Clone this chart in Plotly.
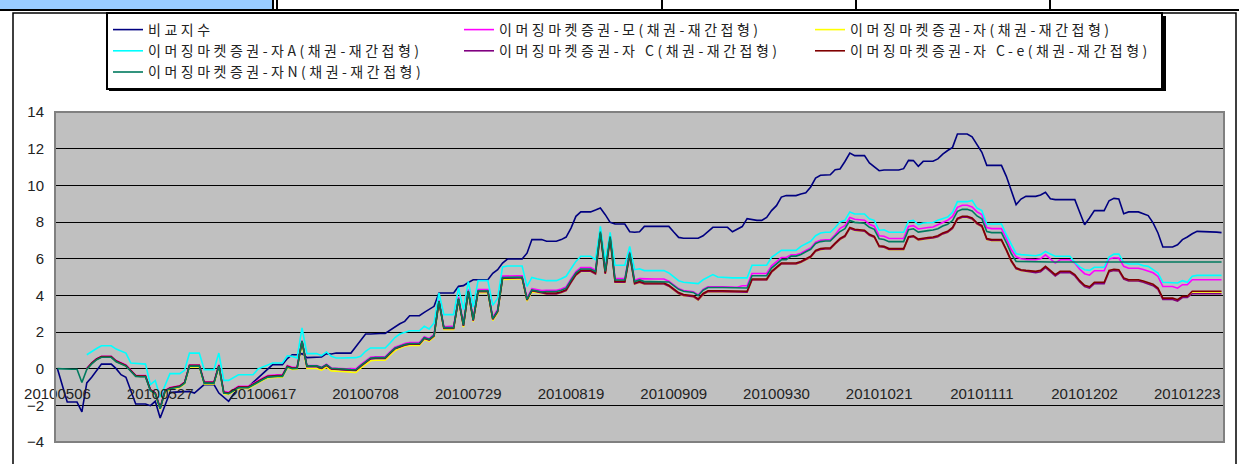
import pandas as pd
import plotly.graph_objects as go

DATES = list(pd.date_range("2010-05-06", "2010-12-30", freq="D").strftime("%Y%m%d"))
TICK_LABELS = ["20100506", "20100527", "20100617", "20100708", "20100729", "20100819",
               "20100909", "20100930", "20101021", "20101111", "20101202", "20101223"]
NAMES = ["비교지수",
         "이머징마켓증권-모(채권-재간접형)",
         "이머징마켓증권-자(채권-재간접형)",
         "이머징마켓증권-자A(채권-재간접형)",
         "이머징마켓증권-자 C(채권-재간접형)",
         "이머징마켓증권-자 C-e(채권-재간접형)",
         "이머징마켓증권-자N(채권-재간접형)"]
COLORS = ["#000080", "#FF00FF", "#FFFF00", "#00FFFF", "#800080", "#800000", "#007A5E"]
N = None

BENCH = [0.00, -0.90, -1.82, -1.82, -1.82, -2.36, -0.78, -0.47, -0.10, 0.25,
         0.25, 0.25, 0.00, -0.33, -0.47, -1.20, -1.93, -1.93, -1.93, -2.02,
         -1.78, -2.69, -2.00, -1.30, -1.28, -1.26, -1.24, -1.24, -1.33, -1.10,
         -0.87, -0.87, -0.87, -1.33, -1.55, -1.78, -1.40, -1.02, -1.02, -1.02,
         -0.75, -0.51, -0.28, -0.05, 0.22, 0.22, 0.22, 0.55, 0.76, 0.76,
         0.82, 0.60, 0.60, 0.60, 0.64, 0.82, 0.80, 0.85, 0.85, 0.85,
         0.85, 1.20, 1.58, 1.89, 1.89, 1.92, 1.92, 1.92, 2.10, 2.31,
         2.45, 2.58, 2.89, 2.89, 2.89, 3.07, 3.25, 3.40, 4.13, 4.13,
         4.13, 4.13, 4.49, 4.53, 4.70, 4.85, 4.85, 4.85, 4.85, 5.20,
         5.40, 5.76, 5.98, 5.98, 5.98, 5.98, 6.30, 7.04, 7.04, 7.04,
         6.95, 6.95, 6.95, 7.04, 7.18, 7.67, 8.31, 8.55, 8.55, 8.55,
         8.65, 8.76, 8.40, 7.98, 7.89, 7.89, 7.89, 7.47, 7.44, 7.47,
         7.76, 7.76, 7.76, 7.76, 7.76, 7.76, 7.45, 7.16, 7.11, 7.11,
         7.11, 7.11, 7.25, 7.50, 7.71, 7.71, 7.71, 7.71, 7.47, 7.60,
         7.75, 8.18, 8.12, 8.09, 8.09, 8.25, 8.62, 8.89, 9.36, 9.44,
         9.44, 9.44, 9.53, 9.60, 9.91, 10.40, 10.55, 10.58, 10.58, 10.85,
         10.89, 11.30, 11.76, 11.62, 11.62, 11.62, 11.22, 11.00, 10.80, 10.84,
         10.84, 10.84, 10.84, 10.91, 11.36, 11.35, 11.04, 11.31, 11.31, 11.31,
         11.44, 11.70, 11.90, 12.07, 12.80, 12.80, 12.80, 12.64, 12.22, 11.80,
         11.09, 11.09, 11.09, 11.09, 10.49, 9.70, 8.95, 9.25, 9.40, 9.40,
         9.40, 9.47, 9.62, 9.27, 9.22, 9.22, 9.22, 9.22, 9.22, 8.53,
         7.85, 8.22, 8.62, 8.62, 8.62, 9.16, 9.29, 9.25, 8.45, 8.55,
         8.55, 8.55, 8.45, 8.35, 7.95, 7.40, 6.64, 6.64, 6.64, 6.76,
         7.04, 7.18, 7.36, 7.49, 7.49, 7.49, 7.49, 7.45, 7.42]

FUND_MO = [N, N, N, N, N, N, 0.02, 0.32, 0.55, 0.68,
           0.68, 0.68, 0.44, 0.32, 0.20, -0.08, -0.36, -0.38, -0.38, -1.13,
           -1.31, -2.13, -1.18, -1.03, -0.98, -0.93, -0.73, 0.20, 0.20, 0.20,
           -0.71, -0.71, -0.71, 0.22, -1.25, -1.29, -1.11, -0.96, -0.96, -0.96,
           -0.81, -0.65, -0.51, -0.38, -0.34, -0.34, -0.34, 0.17, 0.08, 0.09,
           1.53, 0.17, 0.17, 0.17, 0.08, 0.24, 0.04, 0.01, -0.01, -0.01,
           0.00, -0.01, 0.22, 0.42, 0.62, 0.65, 0.65, 0.65, 0.92, 1.17,
           1.27, 1.37, 1.42, 1.42, 1.42, 1.74, 1.65, 1.87, 3.74, 2.29,
           2.32, 2.32, 3.90, 2.45, 4.32, 2.74, 4.32, 4.32, 4.32, 2.81,
           3.23, 5.05, 5.07, 5.07, 5.07, 5.07, 3.86, 4.37, 4.32, 4.26,
           4.28, 4.28, 4.28, 4.35, 4.46, 4.90, 5.30, 5.51, 5.51, 5.51,
           5.37, 7.55, 5.37, 7.28, 4.91, 4.91, 4.91, 6.40, 4.82, 4.91,
           4.89, 4.89, 4.89, 4.89, 4.89, 4.77, 4.57, 4.37, 4.26, 4.24,
           4.20, 4.02, 4.32, 4.47, 4.49, 4.47, 4.47, 4.47, 4.44, 4.44,
           4.52, 4.52, 5.19, 5.19, 5.19, 5.19, 5.61, 5.85, 6.06, 6.06,
           6.21, 6.21, 6.30, 6.45, 6.58, 6.90, 7.00, 7.03, 7.03, 7.30,
           7.65, 7.80, 8.25, 8.15, 8.13, 8.10, 7.88, 7.77, 7.25, 7.22,
           7.10, 7.10, 7.10, 7.10, 7.75, 7.80, 7.62, 7.68, 7.70, 7.73,
           7.85, 8.00, 8.09, 8.30, 8.80, 8.91, 8.91, 8.82, 8.55, 8.40,
           7.70, 7.64, 7.64, 7.64, 7.10, 6.50, 6.10, 6.00, 5.96, 5.93,
           5.94, 5.99, 6.21, 5.99, 5.76, 5.94, 5.94, 5.94, 5.76, 5.43,
           5.18, 5.10, 5.34, 5.34, 5.34, 5.99, 6.05, 6.03, 5.58, 5.48,
           5.48, 5.48, 5.41, 5.34, 5.23, 5.03, 4.48, 4.48, 4.48, 4.39,
           4.58, 4.58, 4.85, 4.85, 4.85, 4.85, 4.85, 4.85, 4.85]

FUND_JA = [N, N, N, N, N, N, -0.03, 0.27, 0.50, 0.63,
           0.63, 0.63, 0.39, 0.27, 0.15, -0.13, -0.41, -0.43, -0.43, -1.18,
           -1.41, -2.23, -1.28, -1.13, -1.08, -1.03, -0.83, 0.10, 0.10, 0.10,
           -0.83, -0.83, -0.83, 0.10, -1.37, -1.41, -1.23, -1.08, -1.08, -1.08,
           -0.93, -0.77, -0.63, -0.50, -0.46, -0.46, -0.46, 0.05, -0.04, -0.03,
           1.37, 0.01, 0.01, 0.01, -0.08, 0.08, -0.12, -0.15, -0.17, -0.17,
           -0.19, -0.20, 0.03, 0.23, 0.43, 0.46, 0.46, 0.46, 0.73, 0.98,
           1.12, 1.22, 1.27, 1.27, 1.27, 1.59, 1.50, 1.72, 3.59, 2.14,
           2.14, 2.14, 3.72, 2.27, 4.14, 2.56, 4.14, 4.14, 4.14, 2.63,
           3.05, 4.87, 4.89, 4.89, 4.89, 4.89, 3.68, 4.19, 4.14, 4.08,
           4.07, 4.07, 4.07, 4.14, 4.25, 4.69, 5.09, 5.30, 5.30, 5.30,
           5.16, 7.34, 5.16, 7.07, 4.70, 4.70, 4.70, 6.19, 4.61, 4.70,
           4.61, 4.61, 4.61, 4.61, 4.61, 4.49, 4.29, 4.09, 3.98, 3.96,
           3.92, 3.74, 4.04, 4.19, 4.21, 4.19, 4.19, 4.19, 4.16, 4.16,
           4.16, 4.16, 4.83, 4.83, 4.83, 4.83, 5.25, 5.49, 5.70, 5.70,
           5.70, 5.70, 5.79, 5.94, 6.07, 6.39, 6.49, 6.52, 6.52, 6.79,
           7.04, 7.19, 7.64, 7.54, 7.52, 7.49, 7.27, 7.16, 6.64, 6.61,
           6.49, 6.49, 6.49, 6.49, 7.14, 7.19, 7.01, 7.07, 7.09, 7.12,
           7.19, 7.34, 7.43, 7.64, 8.14, 8.25, 8.25, 8.16, 7.89, 7.74,
           7.04, 6.98, 6.98, 6.98, 6.44, 5.84, 5.44, 5.34, 5.30, 5.27,
           5.26, 5.31, 5.53, 5.31, 5.08, 5.26, 5.26, 5.26, 5.08, 4.75,
           4.50, 4.42, 4.66, 4.66, 4.66, 5.31, 5.37, 5.35, 4.90, 4.80,
           4.80, 4.80, 4.73, 4.66, 4.55, 4.35, 3.80, 3.80, 3.80, 3.71,
           3.90, 3.90, 4.12, 4.12, 4.12, 4.12, 4.12, 4.12, 4.12]

FUND_JA_A = [N, N, N, N, N, N, 0.76, 0.95, 1.10, 1.25,
             1.25, 1.25, 1.07, 0.95, 0.85, 0.31, 0.28, 0.26, 0.25, -0.87,
             -0.65, -1.56, -0.90, -0.27, -0.27, -0.27, -0.09, 0.85, 0.85, 0.85,
             -0.05, -0.05, -0.05, 0.85, -0.64, -0.64, -0.48, -0.33, -0.33, -0.33,
             -0.33, -0.02, 0.10, 0.22, 0.31, 0.31, 0.31, 0.70, 0.67, 0.58,
             2.22, 0.82, 0.82, 0.82, 0.71, 0.91, 0.67, 0.58, 0.58, 0.58,
             0.58, 0.60, 0.67, 0.95, 1.13, 1.13, 1.13, 1.13, 1.40, 1.70,
             1.89, 1.98, 2.07, 2.07, 2.07, 2.31, 2.16, 2.49, 4.13, 2.95,
             2.95, 2.95, 4.40, 3.22, 4.76, 3.36, 4.80, 4.80, 4.80, 3.45,
             3.85, 5.55, 5.60, 5.60, 5.60, 5.60, 4.49, 4.98, 4.90, 4.85,
             4.80, 4.80, 4.80, 4.90, 5.04, 5.45, 5.85, 6.13, 6.13, 6.13,
             5.95, 7.76, 5.85, 7.44, 5.64, 5.64, 5.64, 6.67, 5.40, 5.45,
             5.35, 5.35, 5.35, 5.35, 5.35, 5.22, 5.00, 4.80, 4.71, 4.69,
             4.67, 4.64, 4.85, 5.00, 5.13, 5.00, 4.97, 4.95, 4.95, 4.95,
             4.95, 4.95, 5.64, 5.64, 5.64, 5.64, 6.07, 6.25, 6.45, 6.45,
             6.45, 6.45, 6.67, 6.80, 6.95, 7.25, 7.40, 7.44, 7.44, 7.70,
             8.00, 8.09, 8.55, 8.44, 8.44, 8.44, 8.18, 8.09, 7.55, 7.58,
             7.44, 7.44, 7.44, 7.44, 8.04, 8.09, 7.86, 7.95, 7.96, 7.97,
             8.09, 8.20, 8.27, 8.53, 9.11, 9.11, 9.11, 9.18, 8.76, 8.62,
             7.89, 7.89, 7.89, 7.89, 7.31, 6.80, 6.27, 6.22, 6.19, 6.18,
             6.16, 6.22, 6.40, 6.25, 6.13, 6.13, 6.13, 6.13, 5.80, 5.55,
             5.40, 5.36, 5.53, 5.53, 5.53, 6.09, 6.25, 6.25, 5.80, 5.71,
             5.71, 5.71, 5.62, 5.58, 5.40, 5.22, 4.71, 4.71, 4.71, 4.67,
             4.80, 4.71, 5.04, 5.09, 5.09, 5.09, 5.09, 5.09, 5.09]

FUND_JA_C = [N, N, N, N, N, N, -0.02, 0.28, 0.51, 0.64,
             0.64, 0.64, 0.40, 0.28, 0.16, -0.12, -0.40, -0.42, -0.42, -1.17,
             -1.35, -2.17, -1.22, -1.07, -1.02, -0.97, -0.77, 0.16, 0.16, 0.16,
             -0.77, -0.77, -0.77, 0.16, -1.31, -1.35, -1.17, -1.02, -1.02, -1.02,
             -0.87, -0.71, -0.57, -0.44, -0.40, -0.40, -0.40, 0.11, 0.02, 0.03,
             1.47, 0.11, 0.11, 0.11, 0.02, 0.18, -0.02, -0.05, -0.07, -0.07,
             -0.09, -0.10, 0.13, 0.33, 0.53, 0.56, 0.56, 0.56, 0.83, 1.08,
             1.18, 1.28, 1.33, 1.33, 1.33, 1.65, 1.56, 1.78, 3.65, 2.20,
             2.20, 2.20, 3.78, 2.33, 4.20, 2.62, 4.20, 4.20, 4.20, 2.69,
             3.11, 4.93, 4.95, 4.95, 4.95, 4.95, 3.74, 4.25, 4.20, 4.14,
             4.08, 4.08, 4.08, 4.15, 4.26, 4.70, 5.10, 5.31, 5.31, 5.31,
             5.17, 7.35, 5.17, 7.08, 4.71, 4.71, 4.71, 6.20, 4.62, 4.71,
             4.62, 4.62, 4.62, 4.62, 4.62, 4.50, 4.30, 4.10, 3.99, 3.97,
             3.93, 3.75, 4.05, 4.20, 4.22, 4.20, 4.20, 4.20, 4.17, 4.17,
             4.17, 4.17, 4.84, 4.84, 4.84, 4.84, 5.26, 5.50, 5.71, 5.71,
             5.71, 5.71, 5.80, 5.95, 6.08, 6.40, 6.50, 6.53, 6.53, 6.80,
             7.05, 7.20, 7.65, 7.55, 7.53, 7.50, 7.28, 7.17, 6.65, 6.62,
             6.50, 6.50, 6.50, 6.50, 7.15, 7.20, 7.02, 7.08, 7.10, 7.13,
             7.20, 7.35, 7.44, 7.65, 8.15, 8.26, 8.26, 8.17, 7.90, 7.75,
             7.05, 6.99, 6.99, 6.99, 6.45, 5.85, 5.45, 5.35, 5.31, 5.28,
             5.24, 5.29, 5.51, 5.29, 5.06, 5.24, 5.24, 5.24, 5.06, 4.73,
             4.48, 4.40, 4.64, 4.64, 4.64, 5.29, 5.35, 5.33, 4.88, 4.78,
             4.78, 4.78, 4.71, 4.64, 4.53, 4.33, 3.78, 3.78, 3.78, 3.69,
             3.88, 3.88, 4.09, 4.09, 4.09, 4.09, 4.09, 4.09, 4.09]

FUND_JA_CE = [N, N, N, N, N, N, 0.00, 0.30, 0.53, 0.66,
              0.66, 0.66, 0.42, 0.30, 0.18, -0.10, -0.38, -0.40, -0.40, -1.15,
              -1.33, -2.15, -1.20, -1.05, -1.00, -0.95, -0.75, 0.18, 0.18, 0.18,
              -0.75, -0.75, -0.75, 0.18, -1.29, -1.33, -1.15, -1.00, -1.00, -1.00,
              -0.85, -0.69, -0.55, -0.42, -0.38, -0.38, -0.38, 0.13, 0.04, 0.05,
              1.49, 0.13, 0.13, 0.13, 0.04, 0.20, 0.00, -0.03, -0.05, -0.05,
              -0.07, -0.08, 0.15, 0.35, 0.55, 0.58, 0.58, 0.58, 0.85, 1.10,
              1.20, 1.30, 1.35, 1.35, 1.35, 1.67, 1.58, 1.80, 3.67, 2.22,
              2.22, 2.22, 3.80, 2.35, 4.22, 2.64, 4.22, 4.22, 4.22, 2.71,
              3.13, 4.95, 4.97, 4.97, 4.97, 4.97, 3.76, 4.27, 4.22, 4.16,
              4.13, 4.13, 4.13, 4.20, 4.31, 4.75, 5.15, 5.36, 5.36, 5.36,
              5.22, 7.40, 5.22, 7.13, 4.76, 4.76, 4.76, 6.25, 4.67, 4.76,
              4.67, 4.67, 4.67, 4.67, 4.67, 4.55, 4.35, 4.15, 4.04, 4.02,
              3.98, 3.80, 4.10, 4.25, 4.27, 4.25, 4.25, 4.25, 4.22, 4.22,
              4.22, 4.22, 4.89, 4.89, 4.89, 4.89, 5.31, 5.55, 5.76, 5.76,
              5.76, 5.76, 5.85, 6.00, 6.13, 6.45, 6.55, 6.58, 6.58, 6.85,
              7.10, 7.25, 7.70, 7.60, 7.58, 7.55, 7.33, 7.22, 6.70, 6.67,
              6.55, 6.55, 6.55, 6.55, 7.20, 7.25, 7.07, 7.13, 7.15, 7.18,
              7.25, 7.40, 7.49, 7.70, 8.20, 8.31, 8.31, 8.22, 7.95, 7.80,
              7.10, 7.04, 7.04, 7.04, 6.50, 5.90, 5.50, 5.40, 5.36, 5.33,
              5.31, 5.36, 5.58, 5.36, 5.13, 5.31, 5.31, 5.31, 5.13, 4.80,
              4.55, 4.47, 4.71, 4.71, 4.71, 5.36, 5.42, 5.40, 4.95, 4.85,
              4.85, 4.85, 4.78, 4.71, 4.60, 4.40, 3.85, 3.85, 3.85, 3.76,
              3.95, 3.95, 4.22, 4.22, 4.22, 4.22, 4.22, 4.22, 4.22]

FUND_JA_N = [0.00, -0.02, -0.03, -0.03, -0.03, -0.75, -0.04, 0.26, 0.49, 0.62,
             0.62, 0.62, 0.38, 0.26, 0.14, -0.14, -0.42, -0.44, -0.44, -1.19,
             -1.37, -2.19, -1.24, -1.09, -1.04, -0.99, -0.79, 0.14, 0.14, 0.14,
             -0.79, -0.79, -0.79, 0.14, -1.33, -1.37, -1.19, -1.04, -1.04, -1.04,
             -0.89, -0.73, -0.59, -0.46, -0.42, -0.42, -0.42, 0.09, 0.00, 0.01,
             1.51, 0.15, 0.15, 0.15, 0.06, 0.22, 0.02, -0.01, -0.03, -0.03,
             -0.05, -0.06, 0.17, 0.37, 0.57, 0.60, 0.60, 0.60, 0.87, 1.12,
             1.22, 1.32, 1.37, 1.37, 1.37, 1.69, 1.60, 1.82, 3.69, 2.24,
             2.24, 2.24, 3.82, 2.37, 4.24, 2.66, 4.24, 4.24, 4.24, 2.73,
             3.15, 4.97, 4.99, 4.99, 4.99, 4.99, 3.78, 4.29, 4.24, 4.18,
             4.21, 4.21, 4.21, 4.28, 4.39, 4.83, 5.23, 5.44, 5.44, 5.44,
             5.30, 7.48, 5.30, 7.21, 4.84, 4.84, 4.84, 6.33, 4.75, 4.84,
             4.75, 4.75, 4.75, 4.75, 4.75, 4.73, 4.53, 4.33, 4.22, 4.20,
             4.16, 3.98, 4.28, 4.43, 4.45, 4.43, 4.43, 4.43, 4.40, 4.40,
             4.40, 4.40, 5.07, 5.07, 5.07, 5.07, 5.49, 5.73, 5.94, 5.94,
             6.14, 6.14, 6.23, 6.38, 6.51, 6.83, 6.93, 6.96, 6.96, 7.23,
             7.48, 7.63, 8.08, 7.98, 7.96, 7.93, 7.71, 7.60, 7.08, 7.05,
             6.93, 6.93, 6.93, 6.93, 7.58, 7.63, 7.45, 7.51, 7.53, 7.56,
             7.63, 7.78, 7.87, 8.08, 8.58, 8.69, 8.69, 8.60, 8.33, 8.18,
             7.48, 7.42, 7.42, 7.42, 6.88, 6.28, 5.85, 5.84, 5.83, 5.83,
             5.82, 5.82, 5.82, 5.82, 5.82, 5.82, 5.82, 5.82, 5.82, 5.82,
             5.82, 5.82, 5.82, 5.82, 5.82, 5.82, 5.82, 5.82, 5.82, 5.82,
             5.82, 5.82, 5.82, 5.82, 5.82, 5.82, 5.82, 5.82, 5.82, 5.82,
             5.82, 5.82, 5.82, 5.82, 5.82, 5.82, 5.82, 5.82, 5.82]

SERIES = [BENCH, FUND_MO, FUND_JA, FUND_JA_A, FUND_JA_C, FUND_JA_CE, FUND_JA_N]

# ---- layout geometry (pixels) ----
W, H = 1239, 464
L, R, T, B = 55, 15, 112, 22
PW, PH = W - L - R, H - T - B


def px(x):
    return (x - L) / PW


def py(y):
    return (H - B - y) / PH


fig = go.Figure()
for name, vals, col in zip(NAMES, SERIES, COLORS):
    label = '<span style="letter-spacing:3.5px">' + name + '</span>'
    fig.add_trace(go.Scatter(x=DATES, y=vals, name=label, mode="lines",
                             line=dict(color=col, width=1.6), connectgaps=False))

Y0, Y1 = -4, 14
zero_pos = (0 - Y0) / (Y1 - Y0)

shapes = [
    # plot area border
    dict(type="rect", xref="paper", yref="paper", x0=0, x1=1, y0=0, y1=1,
         line=dict(color="#808080", width=2), layer="above"),
    # outer chart frame
    dict(type="rect", xref="paper", yref="paper", x0=px(13), x1=px(1236), y0=py(480), y1=py(13),
         line=dict(color="black", width=1.5), layer="below"),
    # top table strip
    dict(type="rect", xref="paper", yref="paper", x0=px(-2), x1=px(273), y0=py(10), y1=py(-5),
         fillcolor="#99CCFF", line=dict(color="black", width=2), layer="below"),
    dict(type="line", xref="paper", yref="paper", x0=px(0), x1=px(1239), y0=py(10), y1=py(10),
         line=dict(color="black", width=2)),
    # legend drop shadow
    dict(type="rect", xref="paper", yref="paper", x0=px(109), x1=px(1166), y0=py(91), y1=py(16),
         fillcolor="black", line=dict(width=0), layer="below"),
]
for vx in [277, 662, 856, 1050]:
    shapes.append(dict(type="line", xref="paper", yref="paper", x0=px(vx), x1=px(vx),
                       y0=py(0), y1=py(10), line=dict(color="black", width=2)))

fig.update_layout(
    width=W, height=H,
    margin=dict(l=L, r=R, t=T, b=B, pad=0),
    paper_bgcolor="white",
    plot_bgcolor="#C0C0C0",
    font=dict(family="Liberation Sans, Arial, sans-serif", size=15, color="#222"),
    showlegend=True,
    legend=dict(orientation="h", x=px(106), xanchor="left", y=py(12), yanchor="top",
                bgcolor="white", bordercolor="black", borderwidth=2,
                entrywidth=306, entrywidthmode="pixels", itemwidth=30,
                font=dict(family="Noto Sans CJK KR", size=14, color="#222"),
                tracegroupgap=0),
    xaxis=dict(type="category", categoryorder="array", categoryarray=DATES,
               range=[-0.5, len(DATES) - 0.5],
               tickmode="array", tickvals=TICK_LABELS, ticktext=TICK_LABELS,
               anchor="free", position=zero_pos, showline=False, showgrid=False,
               zeroline=False, ticks="", ticklabelstandoff=14,
               tickfont=dict(size=15, color="#222")),
    yaxis=dict(range=[Y0, Y1], dtick=2, tick0=0, showgrid=True, gridcolor="black",
               gridwidth=1, zeroline=True, zerolinecolor="black", zerolinewidth=1,
               showline=False, ticks="", ticklabelstandoff=10,
               tickfont=dict(size=15, color="#222")),
    shapes=shapes,
)

fig.write_html("out.html", config={"displayModeBar": False},
               post_script="document.body.style.margin='0';")
